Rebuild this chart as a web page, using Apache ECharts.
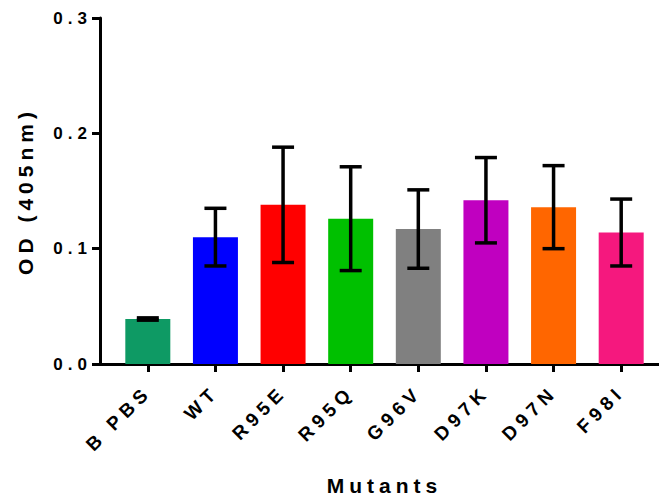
<!DOCTYPE html>
<html>
<head>
<meta charset="utf-8">
<script src="https://cdn.jsdelivr.net/npm/echarts@6/dist/echarts.min.js"></script>
<style>
  html, body { margin: 0; padding: 0; background: #fff; }
  #chart { width: 659px; height: 499px; }
  /* wide tracking on every label */
  #chart text { letter-spacing: 5px; }
</style>
</head>
<body>
<div id="chart"></div>
<script>
// Absorbance per group, with the standard deviation drawn as error bars
const categories = ['B PBS', 'WT', 'R95E', 'R95Q', 'G96V', 'D97K', 'D97N', 'F98I'];
const meanOD = [0.039, 0.110, 0.138, 0.126, 0.117, 0.142, 0.136, 0.114];
const sdOD   = [0.001, 0.025, 0.050, 0.045, 0.034, 0.037, 0.036, 0.029];
const barColors = ['#0e9a64', '#0000ff', '#ff0000', '#00c000', '#808080', '#c000c0', '#ff6600', '#f5187e'];
const yTicks = [0, 0.1, 0.2, 0.3];

const FONT = '"Liberation Sans", Arial, sans-serif';
const chart = echarts.init(document.getElementById('chart'), null, { renderer: 'svg' });

const axisLineStyle = { color: '#000', width: 3 };

chart.setOption({
  animation: false,
  grid: [
    { left: 114, right: 4, top: 18, bottom: 135, outerBoundsMode: 'none', containLabel: false },
    { left: 100, right: 0, top: 18, bottom: 135, outerBoundsMode: 'none', containLabel: false }
  ],
  xAxis: [
    {
      type: 'category',
      gridIndex: 0,
      data: categories,
      axisLine: { show: true, lineStyle: axisLineStyle },
      axisTick: { show: true, alignWithLabel: true, length: 8, lineStyle: { color: '#000', width: 3 } },
      axisLabel: {
        rotate: 45, margin: 25, interval: 0,
        color: '#000', fontFamily: FONT, fontWeight: 'bold', fontSize: 19
      },
      name: 'Mutants',
      nameLocation: 'middle',
      nameGap: 111,
      nameTextStyle: { color: '#000', fontFamily: FONT, fontWeight: 'bold', fontSize: 21 }
    },
    {
      // full-width baseline running under the y axis
      type: 'value',
      gridIndex: 1,
      min: 0, max: 1,
      axisLine: { show: true, lineStyle: axisLineStyle },
      axisTick: { show: false },
      axisLabel: { show: false },
      splitLine: { show: false }
    }
  ],
  yAxis: [
    {
      type: 'value',
      gridIndex: 0,
      min: yTicks[0],
      max: yTicks[yTicks.length - 1],
      interval: 0.1,
      offset: 14,
      axisLine: { show: true, lineStyle: axisLineStyle },
      axisTick: { show: true, length: 8, lineStyle: { color: '#000', width: 3 } },
      axisLabel: {
        margin: 8,
        color: '#000', fontFamily: FONT, fontWeight: 'bold', fontSize: 17,
        formatter: v => v.toFixed(1)
      },
      splitLine: { show: false },
      name: 'OD (405nm)',
      nameLocation: 'middle',
      nameRotate: 90,
      nameGap: 64,
      nameTextStyle: { color: '#000', fontFamily: FONT, fontWeight: 'bold', fontSize: 21 }
    },
    {
      type: 'value',
      gridIndex: 1,
      show: false,
      min: 0, max: 1
    }
  ],
  series: [
    {
      type: 'bar',
      xAxisIndex: 0,
      yAxisIndex: 0,
      barWidth: 45,
      data: meanOD.map((v, i) => ({ value: v, itemStyle: { color: barColors[i] } })),
      z: 2
    },
    {
      type: 'custom',
      xAxisIndex: 0,
      yAxisIndex: 0,
      z: 3,
      data: meanOD.map((v, i) => [i, v - sdOD[i], v + sdOD[i]]),
      renderItem: function (params, api) {
        const x = api.value(0);
        const lo = api.coord([x, api.value(1)]);
        const hi = api.coord([x, api.value(2)]);
        const half = 11;
        const style = { stroke: '#000', lineWidth: 3.5, fill: null };
        return {
          type: 'group',
          children: [
            { type: 'line', shape: { x1: hi[0], y1: hi[1], x2: lo[0], y2: lo[1] }, style },
            { type: 'line', shape: { x1: hi[0] - half, y1: hi[1], x2: hi[0] + half, y2: hi[1] }, style },
            { type: 'line', shape: { x1: lo[0] - half, y1: lo[1], x2: lo[0] + half, y2: lo[1] }, style }
          ]
        };
      }
    }
  ]
});
</script>
</body>
</html>
